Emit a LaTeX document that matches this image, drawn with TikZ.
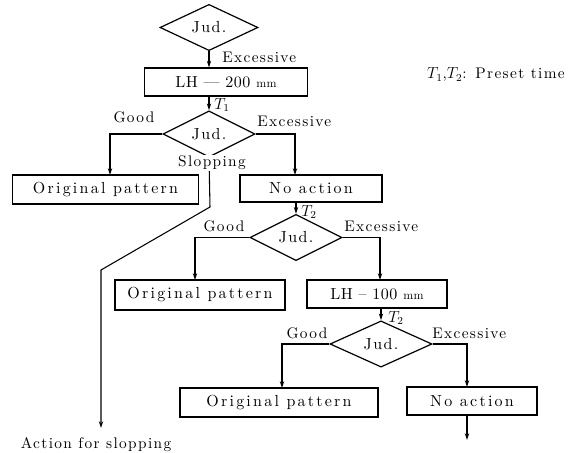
\documentclass[tikz,border=0pt]{standalone}
\usepackage{fontspec}
\setmainfont{lmroman10-regular.otf}[LetterSpace=9,ItalicFont=lmroman10-italic.otf,BoldFont=lmroman10-bold.otf]
\newfontfamily\boxfont{lmroman10-regular.otf}[LetterSpace=14]
\newfontfamily\lhfont{lmroman10-regular.otf}[LetterSpace=3]
\usetikzlibrary{shapes.geometric,arrows.meta}
\begin{document}
\begin{tikzpicture}[x=0.75pt,y=-0.75pt,
  every node/.style={font=\fontsize{11.5}{13}\selectfont},
  box/.style={draw,line width=0.9pt,inner sep=0pt,font=\boxfont\fontsize{12}{14}\selectfont},
  jud/.style={draw,diamond,line width=0.9pt,inner sep=0pt,font=\fontsize{12}{14}\selectfont},
  lab/.style={inner sep=0pt},
  arr/.style={line width=0.8pt,-{Stealth[length=5pt,width=3.2pt]}},
  ln/.style={line width=0.8pt}]
\useasboundingbox (0,0) rectangle (568,453);
% decision and box nodes
\node[jud,minimum width=73.5pt,minimum height=29.25pt] (D1) at (209,27.5) {Jud.};
\node[box,minimum width=122pt,minimum height=21pt] (B1) at (226,82) {\lhfont LH — 200 {\small mm}};
\node[jud,minimum width=69pt,minimum height=28.5pt] (D2) at (209,134) {Jud.};
\node[box,minimum width=139pt,minimum height=21.75pt] (OP1) at (105.5,189.5) {Original pattern};
\node[box,minimum width=106.5pt,minimum height=20.25pt] (NA1) at (311,188.5) {No action};
\node[jud,minimum width=69pt,minimum height=29.25pt] (D3) at (296,237.5) {Jud.};
\node[box,minimum width=127.5pt,minimum height=22.5pt] (OP2) at (200,295) {Original pattern};
\node[box,minimum width=105pt,minimum height=21pt] (LH2) at (377,294) {\lhfont LH – 100 {\small mm}};
\node[jud,minimum width=76.5pt,minimum height=31.5pt] (D4) at (381,344) {Jud.};
\node[box,minimum width=148.5pt,minimum height=21.75pt] (OP3) at (279,402.5) {Original pattern};
\node[box,minimum width=97.5pt,minimum height=21pt] (NA3) at (472,401) {No action};
% entry points
\coordinate (c1) at (110,175);
\coordinate (c2) at (295,175);
\coordinate (c3) at (195,280);
\coordinate (c4) at (380,280);
\coordinate (c5) at (282,388);
\coordinate (c6) at (467,387);
\coordinate (e2) at (467,440);
\coordinate (s1) at (210,207);
\coordinate (s2) at (101,270);
\coordinate (s3) at (101,428);
% connectors
\draw[arr] (D1.south) -- (D1.south |- B1.north);
\draw[arr] (D2.north |- B1.south) -- (D2.north);
\draw[arr] (D2.west) -| (c1);
\draw[arr] (D2.east) -| (c2);
\draw[arr] (D2.south) -- (s1) -- (s2) -- (s3);
\draw[arr] (D3.north |- NA1.south) -- (D3.north);
\draw[arr] (D3.west) -| (c3);
\draw[arr] (D3.east) -| (c4);
\draw[arr] (D4.north |- LH2.south) -- (D4.north);
\draw[arr] (D4.west) -| (c5);
\draw[arr] (D4.east) -| (c6);
\draw[arr] (c6 |- NA3.south) -- (e2);
% labels
\node[lab,anchor=west] (l1) at (222,57) {Excessive};
\node[lab,anchor=west] (l2) at (214,105) {$T_1$};
\node[lab] (l3) at (134,117) {Good};
\node[lab,anchor=west] (l4) at (257,121) {Excessive};
\node[lab,fill=white,inner sep=1pt] (l5) at (212,163) {Slopping};
\node[lab,anchor=west] (l6) at (301,212) {$T_2$};
\node[lab] (l7) at (224,226) {Good};
\node[lab,anchor=west] (l8) at (344,226) {Excessive};
\node[lab,anchor=west] (l9) at (388,318) {$T_2$};
\node[lab] (l10) at (307,333) {Good};
\node[lab,anchor=west] (l11) at (432,333) {Excessive};
\node[lab] (l12) at (96,445) {Action for slopping};
\node[lab,anchor=east] (l13) at (565,75) {$T_1$,$T_2$: Preset time};
\end{tikzpicture}
\end{document}
